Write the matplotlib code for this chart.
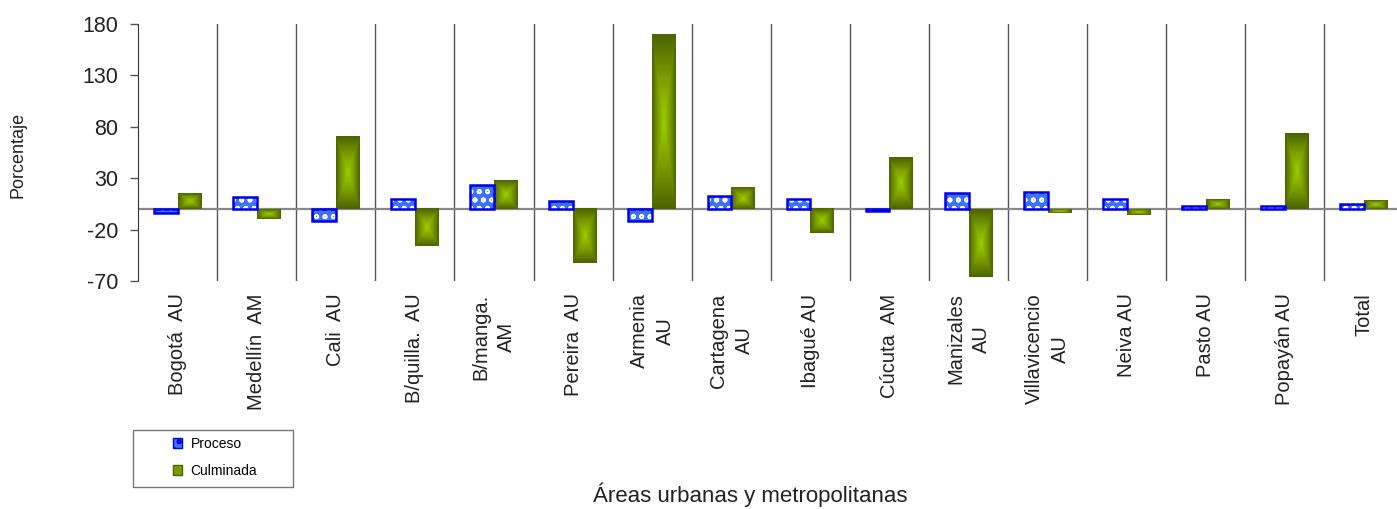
import numpy as np
import matplotlib.pyplot as plt
from matplotlib.colors import LinearSegmentedColormap
from matplotlib.patches import Patch, Rectangle

plt.rcParams['font.family'] = ['Liberation Sans', 'DejaVu Sans']
plt.rcParams['hatch.linewidth'] = 1.2

# Data (percent)
areas = ['Bogotá  AU', 'Medellín  AM', 'Cali  AU', 'B/quilla.  AU', 'B/manga.\nAM',
         'Pereira  AU', 'Armenia\nAU', 'Cartagena\nAU', 'Ibagué AU', 'Cúcuta  AM',
         'Manizales\nAU', 'Villavicencio\nAU', 'Neiva AU', 'Pasto AU', 'Popayán AU', 'Total']
proceso = [-3.5, 11.4, -11.4, 9.4, 23.7, 7.5, -11.4, 13.0, 9.4, -2.3,
           15.3, 16.9, 9.7, 2.9, 2.9, 4.5]
culminada = [14.6, -9.7, 71.0, -36.0, 27.3, -52.6, 170.0, 21.4, -23.4, 49.7,
             -66.0, -3.6, -5.8, 9.1, 73.3, 8.1]
yticks = [-70, -20, 30, 80, 130, 180]

W, H = 1397, 509
fig = plt.figure(figsize=(W / 100, H / 100), dpi=100)
ax = fig.add_axes([138 / W, 1 - 281 / H, 1265.6 / W, 257 / H])

x = np.arange(len(areas))
bw = 0.3

# Proceso: blue patterned bars (white dots on blue), blue outline
ax.bar(x - bw / 2, proceso, bw, color='#3b73ff', edgecolor='white', hatch='oo',
       linewidth=0, zorder=3)
ax.bar(x - bw / 2, proceso, bw, facecolor='none', edgecolor='#0000ee',
       linewidth=1.8, zorder=4)

# Culminada: green bars with rectangular gradient (bright centre, dark edges)
green = LinearSegmentedColormap.from_list('grn', ['#4d6400', '#7a9c00', '#9ccc00'])
u = np.linspace(-1, 1, 60)
grad = 1 - np.maximum(np.abs(u)[None, :], np.abs(u)[:, None])
bars = ax.bar(x + bw / 2, culminada, bw, color='#7a9c00', linewidth=0, zorder=3)
for b in bars:
    x0, y0 = b.get_x(), b.get_y()
    w, h = b.get_width(), b.get_height()
    ax.imshow(grad, cmap=green, extent=(x0, x0 + w, y0, y0 + h), aspect='auto',
              interpolation='bilinear', zorder=3.5)

ax.set_xlim(-0.5, len(areas) - 0.5)
ax.set_ylim(-70, 180)

# category separators and zero line
for k in range(len(areas) - 1):
    ax.axvline(k + 0.5, color='#555555', linewidth=1, zorder=1)
ax.axhline(0, color='#888888', linewidth=1.6, zorder=2)

for s in ['top', 'right', 'bottom']:
    ax.spines[s].set_visible(False)
ax.spines['left'].set_color('#333333')

ax.set_yticks(yticks)
ax.set_yticklabels([str(v) for v in yticks], fontsize=15.5, color='#222222')
ax.tick_params(axis='y', length=6, width=1, color='#555555', pad=8)

ax.set_xticks(x)
ax.set_xticklabels(areas, rotation=90, fontsize=14.5, color='#222222',
                   va='top', ha='center', multialignment='center', linespacing=1.45)
ax.tick_params(axis='x', length=0, pad=9)

fig.text(18 / W, 1 - 155 / H, 'Porcentaje', rotation=90, ha='center', va='center',
         fontsize=13, color='#222222')
fig.text(750 / W, 1 - 495 / H, 'Áreas urbanas y metropolitanas', ha='center',
         va='center', fontsize=16, color='#222222')

# legend
fig.patches.append(Rectangle((133 / W, 1 - 487 / H), 160 / W, 57 / H,
                             transform=fig.transFigure, facecolor='white',
                             edgecolor='#777777', linewidth=1))
handles = [Patch(facecolor='#3b73ff', edgecolor='#0000ee', hatch='oo', label='Proceso'),
           Patch(facecolor='#7a9c00', edgecolor='#4d6400', label='Culminada')]
fig.legend(handles=handles, loc='upper left', bbox_to_anchor=(160 / W, 1 - 424 / H),
           frameon=False, fontsize=10, handlelength=0.7, handleheight=0.7,
           handletextpad=0.6, labelspacing=0.95, borderpad=0.4)

fig.savefig('out.png', dpi=100)
